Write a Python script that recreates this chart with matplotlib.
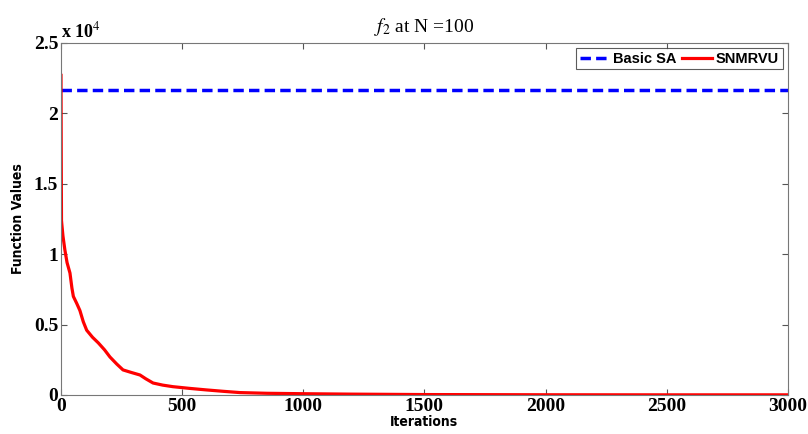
import numpy as np
import matplotlib
matplotlib.use("Agg")
import matplotlib.pyplot as plt
from matplotlib.ticker import FuncFormatter

# Data
basic_sa_iters = [0, 3000]
basic_sa_vals = [21660, 21660]

snm_iters = [0, 1, 2, 3, 8, 16, 25, 37, 45, 51, 65, 78, 92, 106, 130, 154, 180, 202,
             230, 256, 290, 326, 350, 380, 420, 462, 530, 600, 670, 739, 850,
             1000, 1200, 1500, 2000, 2500, 3000]
snm_vals = [22700, 16700, 12400, 12200, 11300, 10300, 9400, 8660, 7600, 7000, 6500, 6000,
            5200, 4600, 4100, 3700, 3200, 2700, 2200, 1780, 1600, 1420, 1150,
            850, 700, 590, 470, 360, 260, 170, 120, 90, 60, 30, 15, 10, 10]

plt.rcParams['font.family'] = ['Liberation Serif', 'DejaVu Serif']
plt.rcParams['mathtext.fontset'] = 'stix'

fig = plt.figure(figsize=(8.08, 4.34), dpi=100)
ax = fig.add_axes([0.0755, 0.0899, 0.8995, 0.8111])

ax.plot(basic_sa_iters, basic_sa_vals, color='#0000ff', linestyle=(0, (3, 1.5)),
        linewidth=2.5, label='Basic SA')
ax.plot(snm_iters, snm_vals, color='#ff0000', linewidth=2.3, label='SNMRVU')

ax.set_xlim(0, 3000)
ax.set_ylim(0, 25000)
ax.set_xticks(range(0, 3001, 500))
ax.set_yticks(np.arange(0, 25001, 5000))
ax.yaxis.set_major_formatter(FuncFormatter(lambda v, p: '%g' % (v / 1e4)))

ax.tick_params(direction='in', top=True, right=True, length=4, color='#555555',
               labelsize=14, pad=2)
for lab in ax.get_xticklabels() + ax.get_yticklabels():
    lab.set_fontweight('bold')
for sp in ax.spines.values():
    sp.set_color('#777777')

ax.text(0.0, 1.005, 'x 10$^{4}$', transform=ax.transAxes, fontsize=13,
        fontweight='bold', ha='left', va='bottom')

ax.set_xlabel('Iterations', fontsize=10, fontweight='bold', family='DejaVu Sans',
              fontstretch='condensed', labelpad=0)
ax.set_ylabel('Function Values', fontsize=10, fontweight='bold', family='DejaVu Sans',
              fontstretch='condensed', labelpad=6)
ax.set_title('$f_2$ at N =100', fontsize=14, pad=8)

leg = ax.legend(loc='upper right', ncol=2, frameon=True, fancybox=False,
                borderpad=0.25, handlelength=2.0, handletextpad=0.3, columnspacing=0.4,
                borderaxespad=0.35, prop={'family': 'Liberation Sans', 'weight': 'bold', 'size': 10.5})
leg.get_frame().set_edgecolor('#333333')
leg.get_frame().set_linewidth(0.8)

fig.savefig('out.png', dpi=100, facecolor='white')
